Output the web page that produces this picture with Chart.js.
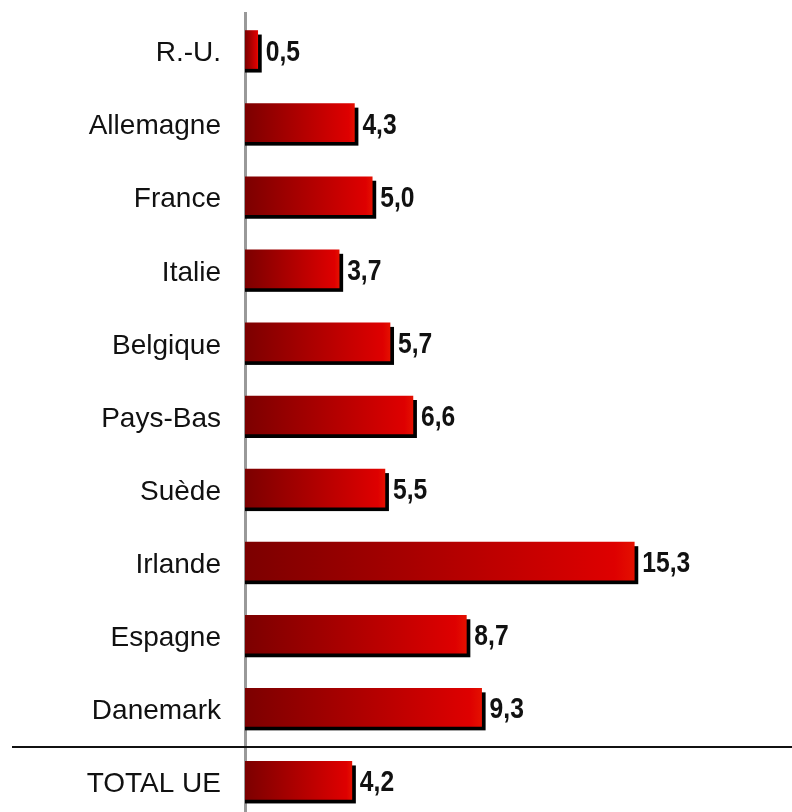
<!DOCTYPE html>
<html>
<head>
<meta charset="utf-8">
<script src="https://cdn.jsdelivr.net/npm/chart.js@4/dist/chart.umd.min.js"></script>
<style>
  html, body { margin: 0; padding: 0; background: #fff; overflow: hidden; }
  canvas { display: block; }
</style>
</head>
<body>
<canvas id="chart" width="792" height="820"></canvas>
<script>
const countries = ['R.-U.', 'Allemagne', 'France', 'Italie', 'Belgique', 'Pays-Bas', 'Suède', 'Irlande', 'Espagne', 'Danemark', 'TOTAL UE'];
const growth = [0.5, 4.3, 5.0, 3.7, 5.7, 6.6, 5.5, 15.3, 8.7, 9.3, 4.2];

// gradient per bar, dark on the left to bright red on the right
function barGradient(ctx) {
  const chart = ctx.chart;
  const x = chart.scales.x;
  if (!x || ctx.raw === undefined) return '#c00000';
  const x0 = x.getPixelForValue(0);
  const x1 = x.getPixelForValue(ctx.raw);
  if (!isFinite(x0) || !isFinite(x1) || x1 - x0 < 1) return '#c00000';
  const g = chart.ctx.createLinearGradient(x0, 0, x1, 0);
  g.addColorStop(0, '#7c0000');
  g.addColorStop(0.35, '#a00000');
  g.addColorStop(0.95, '#de0000');
  g.addColorStop(1, '#e41000');
  return g;
}

const shadowPlugin = {
  id: 'shadows',
  beforeDatasetsDraw(chart) {
    const c = chart.ctx;
    const meta = chart.getDatasetMeta(0);
    c.save();
    c.fillStyle = '#000';
    meta.data.forEach(bar => {
      const h = bar.height;
      c.fillRect(bar.base, bar.y - h / 2 + 4, bar.x - bar.base + 4, h);
    });
    c.restore();
  },
  afterDatasetsDraw(chart) {
    const c = chart.ctx;
    const meta = chart.getDatasetMeta(0);
    c.save();
    c.fillStyle = '#111';
    c.font = 'bold 29px "Liberation Sans", Arial, sans-serif';
    c.textBaseline = 'middle';
    c.textAlign = 'left';
    meta.data.forEach((bar, i) => {
      // narrow bold look of the original labels
      c.save();
      c.translate(bar.x + 8, bar.y + 3);
      c.scale(0.85, 1);
      c.fillText(growth[i].toFixed(1).replace('.', ','), 0, 0);
      c.restore();
    });
    // separator between countries and total
    const y = chart.scales.y;
    const sep = (y.getPixelForValue(countries.length - 2) + y.getPixelForValue(countries.length - 1)) / 2 + 3;
    c.strokeStyle = '#111';
    c.lineWidth = 2;
    c.beginPath();
    c.moveTo(12, sep);
    c.lineTo(chart.width, sep);
    c.stroke();
    c.restore();
  }
};

new Chart(document.getElementById('chart').getContext('2d'), {
  type: 'bar',
  data: {
    labels: countries,
    datasets: [{
      data: growth,
      backgroundColor: barGradient,
      borderWidth: 0,
      barThickness: 38
    }]
  },
  options: {
    indexAxis: 'y',
    responsive: false,
    animation: false,
    layout: { padding: { top: 13, bottom: 3, left: 0, right: 0 } },
    scales: {
      x: {
        display: false,
        min: 0,
        max: 21.5
      },
      y: {
        afterFit(scale) {
          scale.width = 245;
          scale.paddingTop = 0;
          scale.paddingBottom = 0;
        },
        grid: { display: false, drawTicks: false },
        border: { display: true, color: '#999', width: 3 },
        ticks: {
          padding: 24,
          labelOffset: 4,
          color: '#111',
          font: { family: '"Liberation Sans", Arial, sans-serif', size: 28 }
        }
      }
    },
    plugins: {
      legend: { display: false },
      tooltip: { enabled: false }
    }
  },
  plugins: [shadowPlugin]
});
</script>
</body>
</html>
